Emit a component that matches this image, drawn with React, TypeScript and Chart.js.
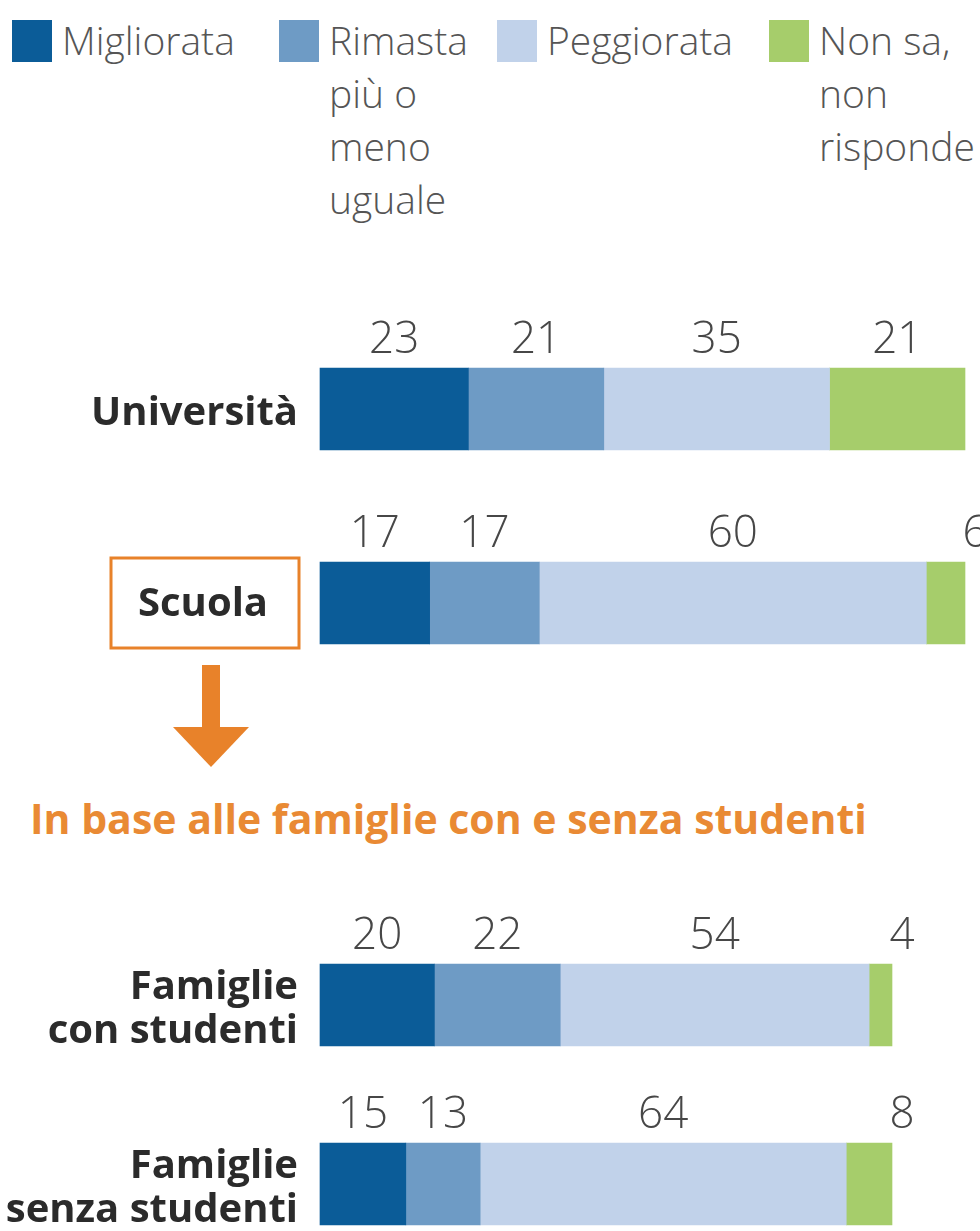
import React, { useEffect, useRef } from "react";
import { Chart, registerables } from "chart.js";

Chart.register(...registerables);

// ---------- data ----------
const seriesNames = ["Migliorata", "Rimasta più o meno uguale", "Peggiorata", "Non sa, non risponde"];
const legendLines = [["Migliorata"], ["Rimasta", "più o", "meno", "uguale"], ["Peggiorata"], ["Non sa,", "non", "risponde"]];
const seriesColors = ["#0b5c98", "#6e9bc5", "#c1d2ea", "#a6cd6b"];

const schoolCategories = ["Università", "Scuola"];
const schoolMigliorata = [23, 17];
const schoolRimasta = [21, 17];
const schoolPeggiorata = [35, 60];
const schoolNonSa = [21, 6];

const familyCategories = [["Famiglie", "con studenti"], ["Famiglie", "senza studenti"]];
const familyMigliorata = [20, 15];
const familyRimasta = [22, 13];
const familyPeggiorata = [54, 64];
const familyNonSa = [4, 8];

const highlightedCategory = "Scuola";
const subtitle = "In base alle famiglie con e senza studenti";

const ORANGE = "#e8822a";

// ---------- plugin ----------
const labelPlugin = {
  id: "barLabels",
  afterDatasetsDraw(chart: any) {
    const ctx = chart.ctx;
    const n = chart.data.datasets.length;
    ctx.save();
    ctx.font = "300 44px 'Open Sans'";
    ctx.fillStyle = "#474747";
    ctx.textAlign = "center";
    ctx.textBaseline = "alphabetic";
    chart.data.datasets.forEach((ds: any, i: number) => {
      const meta = chart.getDatasetMeta(i);
      meta.data.forEach((el: any, j: number) => {
        const v = ds.data[j];
        const p = el.getProps(["x", "base", "y", "height"], true);
        let cx = (p.x + p.base) / 2;
        if (i === n - 1 && v < 10) cx = p.x + 10;
        ctx.fillText(String(v), cx, p.y - p.height / 2 - 15);
      });
    });

    const yScale = chart.scales.y;
    const left = chart.chartArea.left;
    ctx.font = "bold 40px 'Open Sans'";
    ctx.fillStyle = "#2b2b2b";
    ctx.textBaseline = "middle";
    chart.data.labels.forEach((lab: any, j: number) => {
      const yc = yScale.getPixelForValue(j);
      const lines = Array.isArray(lab) ? lab : [lab];
      if (lab === highlightedCategory) {
        ctx.strokeStyle = ORANGE;
        ctx.lineWidth = 3;
        ctx.strokeRect(left - 209, yc - 45, 188, 90);
        ctx.textAlign = "center";
        ctx.fillText(lab, left - 117, yc + 2);
      } else {
        ctx.textAlign = "right";
        const lh = 44;
        lines.forEach((ln: string, k: number) => {
          ctx.fillText(ln, left - 22, yc + 5 + (k - (lines.length - 1) / 2) * lh);
        });
      }
    });
    ctx.restore();
  },
};

// ---------- chart component ----------
function StackedBars(props: {
  labels: any[];
  series: number[][];
  top: number;
  height: number;
  padTop: number;
  padBottom: number;
  padRight: number;
}) {
  const ref = useRef<HTMLCanvasElement>(null);
  useEffect(() => {
    if (!ref.current) return;
    const chart = new Chart(ref.current, {
      type: "bar",
      data: {
        labels: props.labels,
        datasets: props.series.map((d, i) => ({
          label: seriesNames[i],
          data: d,
          backgroundColor: seriesColors[i],
          borderWidth: 0,
          barThickness: 82,
          clip: false as any,
        })),
      },
      options: {
        indexAxis: "y",
        animation: false,
        responsive: false,
        maintainAspectRatio: false,
        layout: {
          padding: { left: 320, right: props.padRight, top: props.padTop, bottom: props.padBottom },
        },
        scales: {
          x: { display: false, stacked: true, min: 0, max: 100 },
          y: { display: false, stacked: true, offset: false },
        },
        plugins: {
          legend: { display: false },
          tooltip: { enabled: false },
        },
      },
      plugins: [labelPlugin],
    } as any);
    return () => chart.destroy();
  }, []);
  return (
    <canvas
      ref={ref}
      width={980}
      height={props.height}
      style={{ position: "absolute", left: 0, top: props.top, width: 980, height: props.height }}
    />
  );
}

const legendItemWidths = [267, 218, 272, 211];

export default function App() {
  return (
    <div
      style={{
        position: "absolute",
        left: 0,
        top: 0,
        width: 980,
        height: 1231,
        overflow: "hidden",
        background: "#ffffff",
      }}
    >
      {/* legend */}
      <div style={{ position: "absolute", left: 12, top: 19, display: "flex" }}>
        {legendLines.map((lines, i) => (
          <div key={i} style={{ width: legendItemWidths[i], display: "flex", alignItems: "flex-start" }}>
            <div style={{ width: 40, height: 42, marginTop: 1, background: seriesColors[i], flex: "none" }} />
            <div
              style={{
                marginLeft: 10,
                font: "300 39px 'Open Sans'",
                lineHeight: "53px",
                color: "#555",
                marginTop: -6,
                whiteSpace: "nowrap",
              }}
            >
              {lines.map((l, k) => (
                <div key={k}>{l}</div>
              ))}
            </div>
          </div>
        ))}
      </div>

      <StackedBars
        labels={schoolCategories}
        series={[schoolMigliorata, schoolRimasta, schoolPeggiorata, schoolNonSa]}
        top={300}
        height={360}
        padTop={109}
        padBottom={57}
        padRight={15}
      />

      {/* arrow */}
      <div style={{ position: "absolute", left: 202, top: 665, width: 18, height: 64, background: ORANGE }} />
      <div
        style={{
          position: "absolute",
          left: 173,
          top: 727,
          width: 0,
          height: 0,
          borderLeft: "38px solid transparent",
          borderRight: "38px solid transparent",
          borderTop: `40px solid ${ORANGE}`,
        }}
      />

      <div
        style={{
          position: "absolute",
          left: 30,
          top: 794,
          font: "bold 41px 'Open Sans'",
          lineHeight: "48px",
          color: "#e98a34",
          whiteSpace: "nowrap",
        }}
      >
        {subtitle}
      </div>

      <StackedBars
        labels={familyCategories}
        series={[familyMigliorata, familyRimasta, familyPeggiorata, familyNonSa]}
        top={900}
        height={331}
        padTop={105}
        padBottom={47}
        padRight={88}
      />
    </div>
  );
}
